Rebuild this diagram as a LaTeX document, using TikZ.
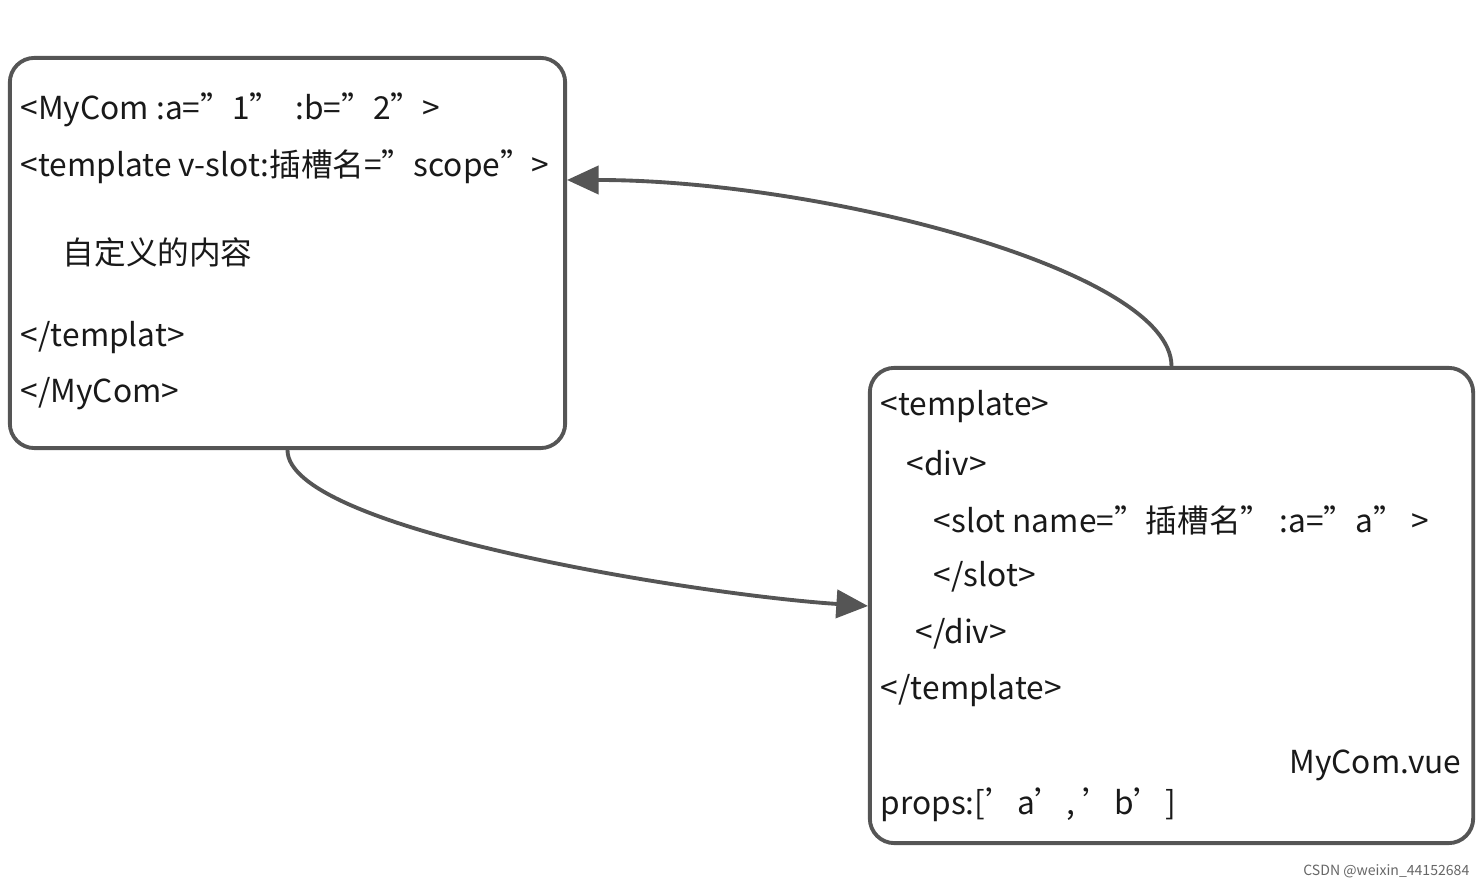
\documentclass[tikz,border=0pt]{standalone}
\usepackage{fontspec}
\setmainfont{Noto Sans CJK SC}
\usetikzlibrary{arrows.meta, positioning}
\definecolor{edgegray}{RGB}{85, 85, 85}
\begin{document}
\begin{tikzpicture}[x=0.01cm, y=-0.01cm,
  box/.style={draw=edgegray, line width=1.1pt, rounded corners=7pt, inner sep=0pt},
  code/.style={anchor=west, inner sep=0pt, font=\fontsize{9}{10}\selectfont, text=black!90},
  link/.style={draw=edgegray, line width=1.1pt, -{Triangle[length=9pt, width=8pt]}}]
  \useasboundingbox (0,0) rectangle (1484,886);

  % Box 1: the parent usage
  \node[box, minimum width=555\pgflinewidth/1.1, minimum width=5.55cm, minimum height=3.9cm] (usage) at (287.5,253) {};
  \node[code] (u1) at (20,110) {<MyCom :a="1"\ \ :b="2">};
  \node[code] (u2) at (20,167) {<template v-slot:插槽名="scope">};
  \node[code] (u3) at (62,252) {自定义的内容};
  \node[code] (u4) at (20,338) {</templat>};
  \node[code] (u5) at (20,394) {</MyCom>};

  % Box 2: MyCom.vue
  \node[box, minimum width=6.03cm, minimum height=4.75cm] (comp) at (1171.5,605.5) {};
  \node[code] (c1) at (880,407) {<template>};
  \node[code] (c2) at (906,463) {<div>};
  \node[code] (c3) at (933,520) {<slot name="插槽名" :a="a" >};
  \node[code] (c4) at (933,577) {</slot>};
  \node[code] (c5) at (915,634) {</div>};
  \node[code] (c6) at (880,691) {</template>};
  \node[code, anchor=east] (cname) at (1462,765) {MyCom.vue};
  \node[code] (c7) at (880,805) {props:['a', 'b']};

  \coordinate (usein) at (567,180);
  \coordinate (compin) at (868,606);

  % connectors
  \draw[link] (comp.north) .. controls (1171,270) and (820,180) .. (usein);
  \draw[link] (usage.south) .. controls (287,530) and (700,595) .. (compin);

  \node[anchor=east, inner sep=0pt, font=\fontsize{4}{5}\selectfont, text=black!60] (mark) at (1470,871) {CSDN @weixin\_44152684};
\end{tikzpicture}
\end{document}
